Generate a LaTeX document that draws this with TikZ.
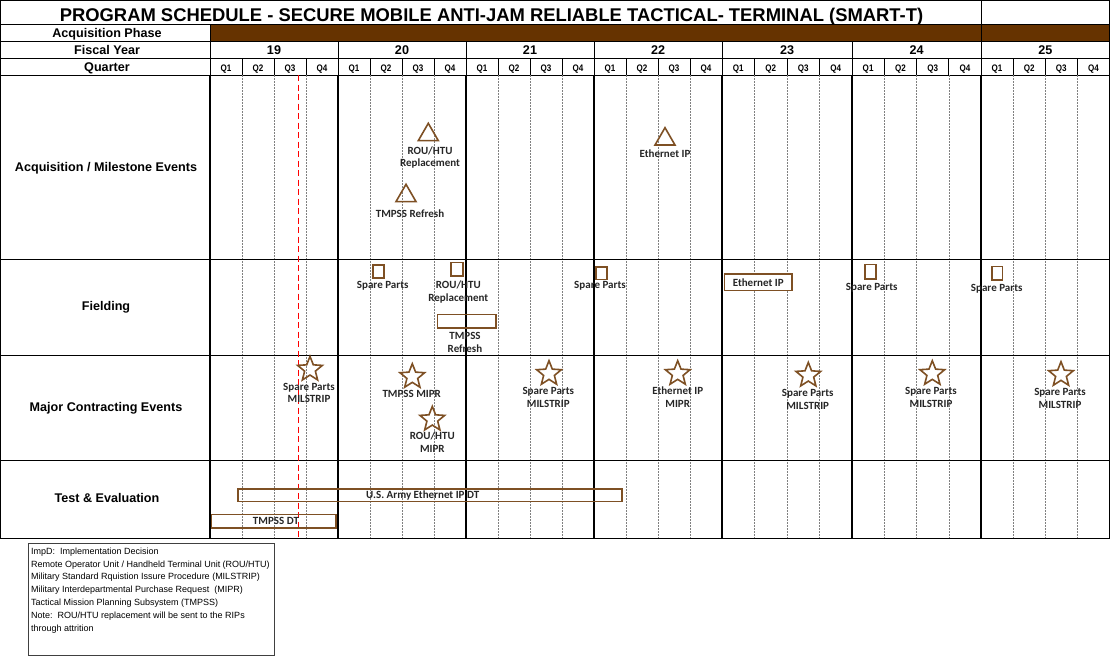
\documentclass[tikz,border=0pt]{standalone}
\usepackage{fontspec}
\setmainfont{Liberation Sans}
\newfontfamily\calibrifont{Carlito}
\newfontfamily\narrowfont[FakeStretch=0.85]{Liberation Sans}
\usetikzlibrary{shapes.geometric}
\definecolor{phase}{RGB}{102,51,0}
\definecolor{evt}{RGB}{126,80,36}
\definecolor{txt}{RGB}{38,38,38}
\begin{document}
\begin{tikzpicture}[x=1pt,y=-1pt,
  grid/.style={line width=0.8pt,black},
  yearline/.style={line width=1.4pt,black},
  qline/.style={line width=0.5pt,gray,dash pattern=on 1.5pt off 1.5pt},
  hdr/.style={font=\bfseries\fontsize{12.6}{14}\selectfont,inner sep=0pt},
  qlab/.style={font=\narrowfont\bfseries\fontsize{9.5}{11}\selectfont,inner sep=0pt},
  lbl/.style={font=\calibrifont\bfseries\fontsize{11}{12.8}\selectfont,align=center,inner sep=0pt,text=txt},
  tri/.style={draw=evt,line width=1.6pt,regular polygon,regular polygon sides=3,minimum size=23pt,inner sep=0pt},
  stmark/.style={draw=evt,line width=1.6pt,star,star points=5,star point ratio=2.3,minimum size=26pt,inner sep=0pt},
  sq/.style={draw=evt,line width=1.6pt,minimum width=11pt,minimum height=13pt,inner sep=0pt},
  bar/.style={draw=evt,line width=1.6pt,inner sep=0pt},
  legend/.style={font=\fontsize{9}{12.8}\selectfont,align=left,inner sep=0pt}
]
\useasboundingbox (0,0) rectangle (1111,656);

% header
\fill[phase] (210,24) rectangle (1109.5,41);
\draw[grid] (0,24) -- (1109.5,24);
\draw[grid] (0,41) -- (1109.5,41);
\draw[grid] (0,58) -- (1109.5,58);
\draw[grid] (0,75) -- (1109.5,75);
\draw[grid] (981,0) -- (981,41);
\draw[grid] (210,24) -- (210,41);

\node[font=\bfseries\fontsize{18.4}{20}\selectfont,inner sep=0pt,anchor=base] (title) at (491.5,21) {PROGRAM SCHEDULE - SECURE MOBILE ANTI-JAM RELIABLE TACTICAL- TERMINAL (SMART-T)};
\node[hdr,anchor=base] (hphase) at (107,37.5) {Acquisition Phase};
\node[hdr,anchor=base] (hfy) at (107,54.5) {Fiscal Year};
\node[hdr,anchor=base] (hq) at (107,71.5) {Quarter};

\foreach \a/\b/\yr in {210/338/19, 338/466/20, 466/594/21, 594/722/22, 722/852/23, 852/981/24, 981/1109.5/25} {
  \pgfmathsetmacro\w{(\b-\a)/4}
  \node[hdr,anchor=base] (fy\yr) at ({(\a+\b)/2},54.5) {\yr};
  \foreach \q in {1,2,3,4} {
    \node[qlab,anchor=base] (q\yr\q) at ({\a+(\q-0.5)*\w},71) {Q\q};
  }
  \foreach \q in {1,2,3} {
    \draw[line width=0.6pt,black] ({\a+\q*\w},58) -- ({\a+\q*\w},75);
    \draw[qline] ({\a+\q*\w},75) -- ({\a+\q*\w},538);
  }
  \draw[grid] (\a,41) -- (\a,75);
  \draw[yearline] (\a,75) -- (\a,538);
}
\draw[yearline] (1109.5,75) -- (1109.5,538);

% body rows
\draw[grid] (0,259.7) -- (1109.5,259.7);
\draw[grid] (0,355.5) -- (1109.5,355.5);
\draw[grid] (0,460.5) -- (1109.5,460.5);
\draw[grid] (0.5,0.5) rectangle (1109.5,538);

\node[hdr] (racq) at (106,168) {Acquisition / Milestone Events};
\node[hdr] (rfld) at (106,307) {Fielding};
\node[hdr] (rmce) at (106,408) {Major Contracting Events};
\node[hdr] (rte) at (107,498) {Test \& Evaluation};

% current date line
\coordinate (nowtop) at (298.3,75);
\coordinate (nowbot) at (298.3,538);
\draw[red,line width=1.4pt,dash pattern=on 6pt off 3.5pt] (nowtop) -- (nowbot);

% acquisition / milestone events
\node[tri] (t1) at (428.3,134.8) {};
\node[lbl] (lt1) at (430,157.5) {ROU/HTU\\Replacement};
\node[tri] (t2) at (406,195.8) {};
\node[lbl] (lt2) at (410,214) {TMPSS Refresh};
\node[tri] (t3) at (665,139.2) {};
\node[lbl] (lt3) at (665,154) {Ethernet IP};

% fielding
\node[sq] (b1) at (378.7,271.7) {};
\node[lbl] (lb1) at (382.7,285.7) {Spare Parts};
\node[sq,minimum width=12.5pt,minimum height=13.4pt] (b2) at (457,269) {};
\node[lbl] (lb2) at (458.3,292.3) {ROU/HTU\\Replacement};
\node[bar,minimum width=58.4pt,minimum height=13.4pt] (r1) at (466.5,321) {};
\node[lbl] (lr1) at (465,342.5) {TMPSS\\Refresh};
\node[sq,minimum height=12.6pt] (b3) at (601.2,273) {};
\node[lbl] (lb3) at (600,285.7) {Spare Parts};
\node[bar,fill=white,minimum width=67.7pt,minimum height=16.7pt,font=\calibrifont\bfseries\fontsize{11}{12.8}\selectfont,text=txt] (r2) at (758.2,282.3) {Ethernet IP};
\node[sq,minimum height=14.7pt] (b4) at (870.5,271.7) {};
\node[lbl] (lb4) at (871.7,287.7) {Spare Parts};
\node[sq,minimum width=10.6pt,minimum height=13.3pt] (b5) at (997,273.3) {};
\node[lbl] (lb5) at (996.7,288.3) {Spare Parts};

% major contracting events
\node[stmark] (s1) at (310,369.4) {};
\node[lbl] (ls1) at (309,393) {Spare Parts\\MILSTRIP};
\node[stmark] (s2) at (412.3,376.7) {};
\node[lbl] (ls2) at (411.7,394) {TMPSS MIPR};
\node[stmark] (s3) at (432.3,419.4) {};
\node[lbl] (ls3) at (432.3,442.3) {ROU/HTU\\MIPR};
\node[stmark] (s4) at (549,373.7) {};
\node[lbl] (ls4) at (548.3,397.5) {Spare Parts\\MILSTRIP};
\node[stmark] (s5) at (677.7,373.7) {};
\node[lbl] (ls5) at (677.7,397.5) {Ethernet IP\\MIPR};
\node[stmark] (s6) at (808.3,375.4) {};
\node[lbl] (ls6) at (807.7,399.2) {Spare Parts\\MILSTRIP};
\node[stmark] (s7) at (932.3,373.7) {};
\node[lbl] (ls7) at (931,397.2) {Spare Parts\\MILSTRIP};
\node[stmark] (s8) at (1061,374.7) {};
\node[lbl] (ls8) at (1060,398.5) {Spare Parts\\MILSTRIP};

% test & evaluation
\node[bar,minimum width=384pt,minimum height=12.7pt] (r3) at (429.7,495.3) {};
\node[lbl] (lr3) at (422.7,495.3) {U.S. Army Ethernet IP DT};
\node[bar,minimum width=124.3pt,minimum height=13.4pt] (r4) at (273.8,521) {};
\node[lbl] (lr4) at (276,521) {TMPSS DT};

% legend
\node[draw=black!75,line width=0.7pt,minimum width=246pt,minimum height=112pt,inner sep=0pt,anchor=north west] (legbox) at (28,542.5) {};
\node[legend,anchor=north west] (legtext) at (31,547.5) {ImpD:\ \ Implementation Decision\\
Remote Operator Unit / Handheld Terminal Unit (ROU/HTU)\\
Military Standard Rquistion Issure Procedure (MILSTRIP)\\
Military Interdepartmental Purchase Request\ \ (MIPR)\\
Tactical Mission Planning Subsystem (TMPSS)\\
Note:\ \ ROU/HTU replacement will be sent to the RIPs\\
through attrition};
\end{tikzpicture}
\end{document}
